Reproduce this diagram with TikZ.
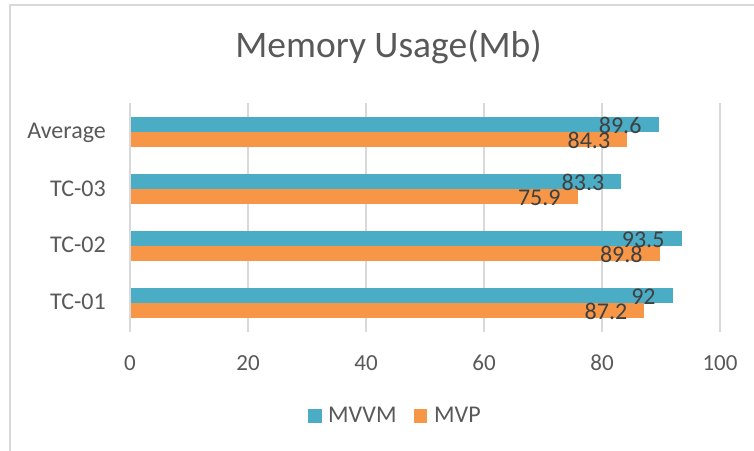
\documentclass[tikz,border=0pt]{standalone}
\usepackage{fontspec}
\setmainfont{Carlito}
\definecolor{mvvm}{HTML}{4BACC6}
\definecolor{mvp}{HTML}{F79646}
\definecolor{gridgray}{HTML}{D9D9D9}
\definecolor{labelgray}{HTML}{595959}
\definecolor{datagray}{HTML}{404040}
\begin{document}
\begin{tikzpicture}[x=1pt,y=-1pt,
  gridline/.style={draw=gridgray,line width=1.3pt},
  frameline/.style={draw=gridgray,line width=1.5pt},
  ticklabel/.style={anchor=base,inner sep=0pt,text=labelgray,font=\fontsize{23}{27}\selectfont},
  catlabel/.style={anchor=base east,inner sep=0pt,text=labelgray,font=\fontsize{24}{28}\selectfont},
  datalabel/.style={anchor=base east,inner sep=0pt,text=datagray,font=\fontsize{24}{28}\selectfont},
  legendlabel/.style={anchor=base west,inner sep=0pt,text=labelgray,font=\fontsize{24}{28}\selectfont},
  titlelabel/.style={anchor=base,inner sep=0pt,text=labelgray,font=\fontsize{37.5}{42}\selectfont}]
\useasboundingbox (0,0) rectangle (754,450);
\fill[white] (0,0) rectangle (754,450);
% chart area border (left and top edges)
\draw[frameline] (10,460) -- (10,5) -- (770,5);
% title
\node[titlelabel] (title) at (388.5,57.5) {Memory Usage(Mb)};
% vertical gridlines and value-axis labels
\foreach \v in {0,20,...,100}{
  \draw[gridline] ({130+5.9*\v},103) -- ({130+5.9*\v},332);
  \node[ticklabel] (tick\v) at ({130+5.9*\v},370.5) {\v};
}
% bars: category, top edge, MVVM value, MVP value, label baseline
\foreach \name/\top/\a/\b/\base in {Average/117/89.6/84.3/138.3,TC-03/174.1/83.3/75.9/196,TC-02/231.2/93.5/89.8/252.7,TC-01/288.3/92/87.2/309.3}{
  \fill[mvvm] (130.5,\top) rectangle ({130+5.9*\a},{\top+15});
  \fill[mvp] (130.5,{\top+15}) rectangle ({130+5.9*\b},{\top+30});
  \node[catlabel] (cat-\name) at (106,\base) {\name};
  \node[datalabel] (mvvm-\name) at ({130+5.9*\a-17},{\top+16}) {\a};
  \node[datalabel] (mvp-\name) at ({130+5.9*\b-17},{\top+31}) {\b};
}
% legend
\fill[mvvm] (308.3,409.3) rectangle (321.7,422.7);
\node[legendlabel] (leg-mvvm) at (328,422.7) {MVVM};
\fill[mvp] (414,409.3) rectangle (427.4,422.7);
\node[legendlabel] (leg-mvp) at (434,422.7) {MVP};
\end{tikzpicture}
\end{document}
